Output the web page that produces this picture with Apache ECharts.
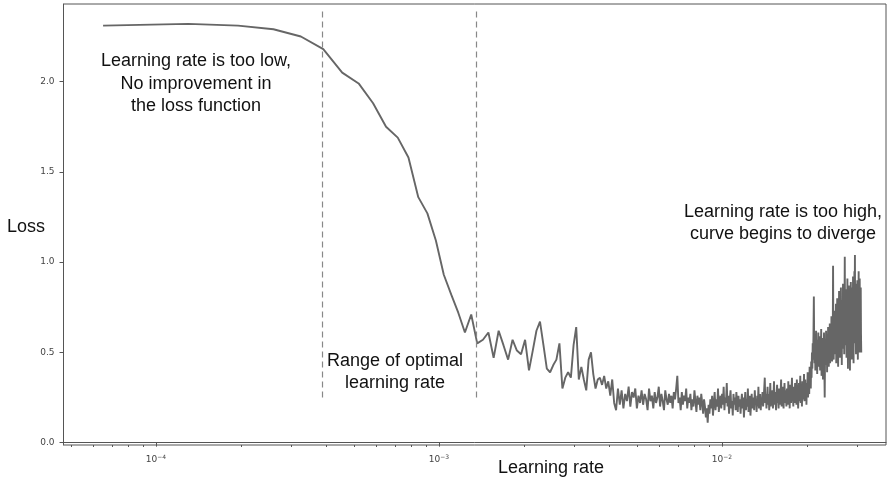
<!DOCTYPE html>
<html>
<head>
    <meta charset="utf-8">
    <title>Learning rate finder</title>
    <script src="https://cdn.jsdelivr.net/npm/echarts@6/dist/echarts.min.js"></script>
    <style>
        html, body { margin: 0; padding: 0; background: #fff; }
    </style>
</head>
<body>
<div id="chart" style="width:890px; height:483px;"></div>
<script>
    // lr grows by a fixed step each iteration (linear sweep), loss
    var LR_STEP = 6.5e-5;
    var losses = [
        2.31, 2.32, 2.31, 2.29, 2.25, 2.18, 2.05, 1.99, 1.88, 1.75, 1.69, 1.58, 1.36, 1.27, 1.12, 0.93, 0.82, 0.72, 0.61, 0.71, 0.55,
        0.57, 0.61, 0.47, 0.62, 0.54, 0.46, 0.57, 0.51, 0.49, 0.57, 0.40, 0.51, 0.62, 0.67, 0.54, 0.41, 0.39, 0.43, 0.46,
        0.55, 0.30, 0.36, 0.39, 0.36, 0.54, 0.64, 0.35, 0.42, 0.35, 0.29, 0.46, 0.50, 0.38, 0.30, 0.35, 0.36, 0.32, 0.37, 0.30,
        0.34, 0.26, 0.35, 0.22, 0.18, 0.30, 0.21, 0.29, 0.19, 0.27, 0.23, 0.31, 0.20, 0.28, 0.25, 0.30, 0.19, 0.26, 0.22, 0.29,
        0.21, 0.27, 0.24, 0.18, 0.30, 0.23, 0.26, 0.19, 0.28, 0.22, 0.25, 0.31, 0.20, 0.27, 0.23, 0.18, 0.29, 0.24, 0.21, 0.27,
        0.22, 0.26, 0.19, 0.28, 0.24, 0.30, 0.37, 0.22, 0.25, 0.18, 0.28, 0.21, 0.26, 0.23, 0.30, 0.19, 0.25, 0.22, 0.27, 0.18,
        0.24, 0.20, 0.29, 0.23, 0.17, 0.26, 0.21, 0.25, 0.18, 0.27, 0.22, 0.16, 0.24, 0.20, 0.14, 0.19, 0.11, 0.21, 0.16, 0.24,
        0.19, 0.26, 0.15, 0.22, 0.28, 0.18, 0.24, 0.20, 0.30, 0.17, 0.23, 0.26, 0.19, 0.27, 0.21, 0.31, 0.18, 0.25, 0.22, 0.33,
        0.20, 0.26, 0.16, 0.24, 0.29, 0.19, 0.23, 0.15, 0.27, 0.21, 0.25, 0.18, 0.28, 0.22, 0.17, 0.26, 0.20, 0.24, 0.16, 0.23,
        0.27, 0.19, 0.25, 0.14, 0.22, 0.28, 0.18, 0.24, 0.20, 0.30, 0.17, 0.23, 0.26, 0.15, 0.21, 0.27, 0.19, 0.25, 0.22, 0.18,
        0.29, 0.21, 0.24, 0.17, 0.26, 0.20, 0.31, 0.19, 0.23, 0.27, 0.18, 0.25, 0.21, 0.28, 0.20, 0.24, 0.30, 0.36, 0.22, 0.27,
        0.19, 0.25, 0.31, 0.21, 0.27, 0.18, 0.24, 0.33, 0.20, 0.26, 0.22, 0.29, 0.19, 0.25, 0.34, 0.21, 0.28, 0.23, 0.18, 0.27,
        0.32, 0.22, 0.26, 0.19, 0.30, 0.24, 0.21, 0.28, 0.35, 0.20, 0.25, 0.31, 0.23, 0.19, 0.27, 0.33, 0.22, 0.29, 0.24, 0.20,
        0.30, 0.26, 0.21, 0.34, 0.24, 0.28, 0.19, 0.32, 0.25, 0.22, 0.29, 0.36, 0.23, 0.27, 0.20, 0.31, 0.26, 0.22, 0.33, 0.24,
        0.28, 0.21, 0.35, 0.25, 0.30, 0.19, 0.27, 0.33, 0.23, 0.29, 0.37, 0.22, 0.26, 0.31, 0.20, 0.34, 0.27, 0.24, 0.30, 0.38,
        0.23, 0.29, 0.35, 0.26, 0.31, 0.21, 0.33, 0.28, 0.39, 0.25, 0.30, 0.36, 0.27, 0.42, 0.33, 0.38, 0.30, 0.45, 0.36, 0.50,
        0.41, 0.55, 0.46, 0.60, 0.81, 0.52, 0.44, 0.58, 0.40, 0.49, 0.62, 0.43, 0.54, 0.38, 0.57, 0.47, 0.61, 0.42, 0.52, 0.45,
        0.59, 0.40, 0.55, 0.48, 0.63, 0.37, 0.51, 0.44, 0.58, 0.35, 0.53, 0.46, 0.61, 0.41, 0.25, 0.49, 0.56, 0.43, 0.62, 0.47,
        0.54, 0.39, 0.60, 0.45, 0.64, 0.50, 0.42, 0.58, 0.47, 0.66, 0.44, 0.55, 0.61, 0.48, 0.70, 0.52, 0.45, 0.63, 0.56, 0.98,
        0.57, 0.46, 0.68, 0.52, 0.73, 0.49, 0.61, 0.55, 0.77, 0.44, 0.64, 0.58, 0.80, 0.50, 0.67, 0.42, 0.72, 0.59, 0.84, 0.53,
        0.69, 0.47, 0.75, 0.61, 0.86, 0.55, 0.70, 0.43, 0.79, 0.63, 0.52, 0.88, 0.66, 0.58, 0.82, 0.49, 0.73, 1.03, 0.60, 0.77,
        0.54, 0.85, 0.65, 0.47, 0.80, 0.58, 0.91, 0.62, 0.41, 0.76, 0.55, 0.87, 0.68, 0.50, 0.83, 0.40, 0.71, 0.60, 0.89, 0.57,
        0.74, 0.46, 0.86, 0.63, 0.79, 0.52, 0.92, 0.67, 0.44, 0.81, 0.58, 0.95, 0.70, 1.04, 0.55, 0.84, 0.62, 0.49, 0.88, 0.66,
        0.77, 0.53, 0.90, 0.61, 0.46, 0.83, 0.69, 0.95, 0.57, 0.80, 0.50, 0.91, 0.64, 0.74, 0.55, 0.86, 0.60, 0.50
    ];

    var xMajorTicks = [1e-4, 1e-3, 1e-2];
    var xMinorTicks = [5e-5, 6e-5, 7e-5, 8e-5, 9e-5,
        2e-4, 3e-4, 4e-4, 5e-4, 6e-4, 7e-4, 8e-4, 9e-4,
        2e-3, 3e-3, 4e-3, 5e-3, 6e-3, 7e-3, 8e-3, 9e-3,
        2e-2, 3e-2];
    var yTicks = [0, 0.5, 1.0, 1.5, 2.0];

    // dashed lines bounding the optimal range
    var optimalRange = [3.86e-4, 1.35e-3];
    var dashSpan = [0.25, 2.40];

    var points = losses.map(function (v, i) {
        return [(i + 1) * LR_STEP, v];
    });

    var X_MIN = 4.71e-5, X_MAX = 0.038;
    var axisColor = '#555';
    var textFont = '"Liberation Sans", Arial, sans-serif';

    var chart = echarts.init(document.getElementById('chart'));
    var option = {
        animation: false,
        grid: {
            left: 63.5, right: 4, top: 4, bottom: 38,
            show: true, borderColor: axisColor, borderWidth: 1
        },
        xAxis: [{
            type: 'log', logBase: 10, min: X_MIN, max: X_MAX,
            axisLine: { show: true, lineStyle: { color: axisColor } },
            splitLine: { show: false },
            axisTick: { show: true, customValues: xMajorTicks, length: 4, lineStyle: { color: axisColor } },
            axisLabel: {
                customValues: xMajorTicks, margin: 9,
                formatter: function (v) {
                    var e = Math.round(Math.log(v) / Math.LN10);
                    return '{b|10}{s|\u2212' + Math.abs(e) + '}';
                },
                rich: {
                    b: { fontSize: 9, color: '#444', fontFamily: '"DejaVu Sans", sans-serif' },
                    s: { fontSize: 6, color: '#444', fontFamily: '"DejaVu Sans", sans-serif', padding: [0, 0, 6, 0] }
                }
            }
        }, {
            type: 'log', logBase: 10, min: X_MIN, max: X_MAX, position: 'bottom',
            axisLine: { show: false },
            splitLine: { show: false },
            axisTick: { show: true, customValues: xMinorTicks, length: 2, lineStyle: { color: axisColor } },
            axisLabel: { show: false }
        }],
        yAxis: {
            type: 'value', min: -0.013, max: 2.43,
            axisLine: { show: true, lineStyle: { color: axisColor } },
            splitLine: { show: false },
            axisTick: { show: true, customValues: yTicks, length: 4, lineStyle: { color: axisColor } },
            axisLabel: {
                customValues: yTicks, margin: 9, fontSize: 9, color: '#444',
                fontFamily: '"DejaVu Sans", sans-serif',
                formatter: function (v) { return v.toFixed(1); }
            }
        },
        series: [{
            type: 'line',
            data: points,
            showSymbol: false,
            lineStyle: { color: '#666', width: 1.9 },
            markLine: {
                silent: true,
                symbol: 'none',
                label: { show: false },
                lineStyle: { color: '#888', width: 1.2, type: [6, 4] },
                data: optimalRange.map(function (lr) {
                    return [{ coord: [lr, dashSpan[0]] }, { coord: [lr, dashSpan[1]] }];
                })
            }
        }],
        graphic: [
            { type: 'text', left: 7, top: 218, style: { text: 'Loss', font: '18px ' + textFont, fill: '#111' } },
            { type: 'text', x: 551, y: 468, style: { text: 'Learning rate', font: '18px ' + textFont, fill: '#111', align: 'center', verticalAlign: 'middle' } },
            { type: 'text', x: 196, y: 84, style: { text: 'Learning rate is too low,\nNo improvement in\nthe loss function', font: '18px ' + textFont, lineHeight: 22.5, fill: '#111', align: 'center', verticalAlign: 'middle' } },
            { type: 'text', x: 395, y: 372, style: { text: 'Range of optimal\nlearning rate', font: '18px ' + textFont, lineHeight: 22.5, fill: '#111', align: 'center', verticalAlign: 'middle' } },
            { type: 'text', x: 783, y: 223, style: { text: 'Learning rate is too high,\ncurve begins to diverge', font: '18px ' + textFont, lineHeight: 22.5, fill: '#111', align: 'center', verticalAlign: 'middle' } }
        ]
    };
    chart.setOption(option);
</script>
</body>
</html>
